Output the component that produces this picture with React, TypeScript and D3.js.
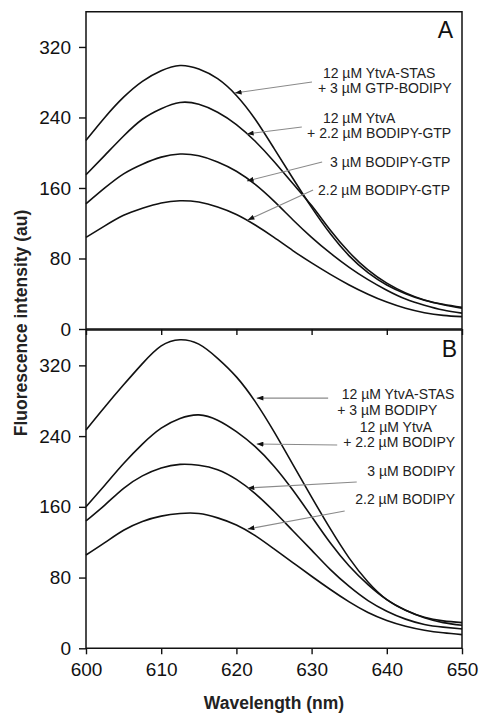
import React, { useEffect, useRef } from "react";
import * as d3 from "d3";

// wavelength grid (nm)
const wavelengths = [600, 602.5, 605, 607.5, 610, 612.5, 615, 617.5, 620, 622.5, 625, 627.5, 630, 632.5, 635, 637.5, 640, 642.5, 645, 647.5, 650];

// panel A (GTP-BODIPY)
const aStasGtpBodipy = [214, 240, 263, 281, 293, 299, 295, 284, 265, 238, 205, 171, 138, 108, 83, 64, 50, 40, 32.5, 27.5, 23.5];
const aYtvaBodipyGtp = [175, 197, 219, 238, 250, 257, 255, 246, 232, 213, 190, 165, 140, 112, 87, 67, 52, 41, 33, 28, 24.5];
const aBodipyGtp3 = [142, 160, 176, 187, 195, 198.5, 196.5, 189.5, 179, 164, 145, 124, 104, 86, 70, 56, 44, 34, 27, 21.5, 18];
const aBodipyGtp22 = [104, 117, 129, 137, 143, 145.5, 144, 138.5, 130, 118, 104, 89, 75, 62, 50, 39.5, 30.5, 23.5, 18.5, 15.5, 14];

// panel B (BODIPY)
const bStasBodipy = [247, 273, 298, 322, 342, 349, 344, 328, 307, 279, 245, 208, 171, 135, 102, 75, 55, 43, 35, 31, 29];
const bYtvaBodipy = [160, 184.5, 209, 231, 249, 260, 264, 258, 245, 228, 206, 179, 149, 119, 93, 72, 55, 43, 34.5, 29, 26];
const bBodipy3 = [144, 162, 181, 195, 204, 208, 207, 202, 191, 175, 155, 133, 111, 89, 70, 54, 42, 33, 27, 24, 22];
const bBodipy22 = [105.5, 119.5, 133.5, 143.5, 149.5, 152.5, 152.5, 147.5, 139.5, 127.5, 112.5, 97, 81.5, 66.5, 52.5, 40.5, 31.5, 25, 20.5, 17.5, 15.5];

const xTicks = [600, 610, 620, 630, 640, 650];
const yTicks = [0, 80, 160, 240, 320];

// annotation text: [wavelength, intensity, text]
const aLabels: [number, number, string][] = [
  [631.5, 284.8, "12 µM YtvA-STAS"],
  [630.85, 267.8, "+ 3 µM GTP-BODIPY"],
  [631.5, 233.7, "12 µM YtvA"],
  [629.4, 216.7, "+ 2.2 µM BODIPY-GTP"],
  [632.45, 183.8, "3 µM BODIPY-GTP"],
  [630.85, 152, "2.2 µM BODIPY-GTP"],
];
const bLabels: [number, number, string][] = [
  [634.0, 281.9, "12 µM YtvA-STAS"],
  [633.4, 263.8, "+ 3 µM BODIPY"],
  [636.4, 245.2, "12 µM YtvA"],
  [634.2, 228.2, "+ 2.2 µM BODIPY"],
  [637.4, 195.4, "3 µM BODIPY"],
  [635.8, 163.7, "2.2 µM BODIPY"],
];

// arrows: [fromX, fromY, toX, toY] in data units
const aArrows = [
  [630.05, 280.3, 619.8, 267.8],
  [628.7, 229.2, 621.4, 221.3],
  [631.4, 189.5, 621.4, 167.9],
  [630.2, 157.7, 621.5, 123.7],
];
const bArrows = [
  [632.2, 283, 622.7, 283],
  [633.4, 229.9, 622.7, 231],
  [636.0, 188.1, 621.5, 181.3],
  [634.4, 155.2, 621.5, 134.9],
];

const FONT = "'Liberation Sans', Arial, Helvetica, sans-serif";

export default function App() {
  const ref = useRef<SVGSVGElement>(null);

  useEffect(() => {
    const svg = d3.select(ref.current);
    svg.selectAll("*").remove();

    const left = 86, right = 462;
    const x = d3.scaleLinear().domain([600, 650]).range([left, right]);

    svg
      .append("defs")
      .append("marker")
      .attr("id", "head")
      .attr("markerUnits", "userSpaceOnUse")
      .attr("viewBox", "0 0 8 6")
      .attr("refX", 8)
      .attr("refY", 3)
      .attr("markerWidth", 7)
      .attr("markerHeight", 5)
      .attr("orient", "auto")
      .append("path")
      .attr("d", "M0,0L8,3L0,6Z")
      .attr("fill", "#111");

    const panels = [
      { top: 11.7, bottom: 329, series: [aStasGtpBodipy, aYtvaBodipyGtp, aBodipyGtp3, aBodipyGtp22], labels: aLabels, arrows: aArrows, letter: "A", lx: 453, ly: 37.5, xLabels: false },
      { top: 330, bottom: 648.3, series: [bStasBodipy, bYtvaBodipy, bBodipy3, bBodipy22], labels: bLabels, arrows: bArrows, letter: "B", lx: 457, ly: 357, xLabels: true },
    ];

    panels.forEach((p) => {
      const y = d3.scaleLinear().domain([0, 360]).range([p.bottom, p.top]);
      const g = svg.append("g");

      const line = d3
        .line<number>()
        .x((d, i) => x(wavelengths[i]))
        .y((d) => y(d))
        .curve(d3.curveNatural);

      p.series.forEach((s) => {
        g.append("path")
          .attr("d", line(s))
          .attr("fill", "none")
          .attr("stroke", "#111")
          .attr("stroke-width", 1.6);
      });

      // arrows
      p.arrows.forEach((a) => {
        g.append("line")
          .attr("x1", x(a[0]))
          .attr("y1", y(a[1]))
          .attr("x2", x(a[2]))
          .attr("y2", y(a[3]))
          .attr("stroke", "#8a8a8a")
          .attr("stroke-width", 1.1)
          .attr("marker-end", "url(#head)");
      });

      p.labels.forEach((l) => {
        g.append("text")
          .attr("x", x(l[0]))
          .attr("y", y(l[1]))
          .attr("font-family", FONT)
          .attr("font-size", 14)
          .attr("fill", "#222")
          .text(l[2]);
      });

      g.append("text")
        .attr("x", p.lx)
        .attr("y", p.ly)
        .attr("text-anchor", "end")
        .attr("font-family", FONT)
        .attr("font-size", 23)
        .attr("fill", "#111")
        .text(p.letter);

      // y axis
      const ya = g
        .append("g")
        .attr("transform", `translate(${left},0)`)
        .call(d3.axisLeft(y).tickValues(yTicks).tickSize(7).tickPadding(8).tickFormat(d3.format("d")));
      ya.select(".domain").remove();
      ya.selectAll("line").attr("stroke", "#111").attr("stroke-width", 1.4);
      ya.selectAll("text").attr("font-family", FONT).attr("font-size", 19).attr("fill", "#111");

      // x axis
      const xa = g
        .append("g")
        .attr("transform", `translate(0,${p.bottom})`)
        .call(d3.axisBottom(x).tickValues(xTicks).tickSize(6).tickPadding(8));
      xa.select(".domain").remove();
      xa.selectAll("line").attr("stroke", "#111").attr("stroke-width", 1.4);
      if (p.xLabels) {
        xa.selectAll("text").attr("font-family", FONT).attr("font-size", 19).attr("fill", "#111");
      } else {
        xa.selectAll("text").remove();
      }

      // frame
      g.append("path")
        .attr("d", `M${left},${p.bottom}H${right}V${p.top}H${left}Z`)
        .attr("fill", "none")
        .attr("stroke", "#111")
        .attr("stroke-width", 1.5);
    });

    svg
      .append("text")
      .attr("x", (left + right) / 2)
      .attr("y", 709)
      .attr("text-anchor", "middle")
      .attr("font-family", FONT)
      .attr("font-weight", "bold")
      .attr("font-size", 17.5)
      .attr("fill", "#222")
      .text("Wavelength (nm)");

    svg
      .append("text")
      .attr("transform", "translate(26.5,323) rotate(-90)")
      .attr("text-anchor", "middle")
      .attr("font-family", FONT)
      .attr("font-weight", "bold")
      .attr("font-size", 17.5)
      .attr("fill", "#222")
      .text("Fluorescence intensity (au)");
  }, []);

  return (
    <svg
      ref={ref}
      width={485}
      height={714}
      style={{ position: "absolute", left: 0, top: 0, background: "#fff" }}
    />
  );
}
